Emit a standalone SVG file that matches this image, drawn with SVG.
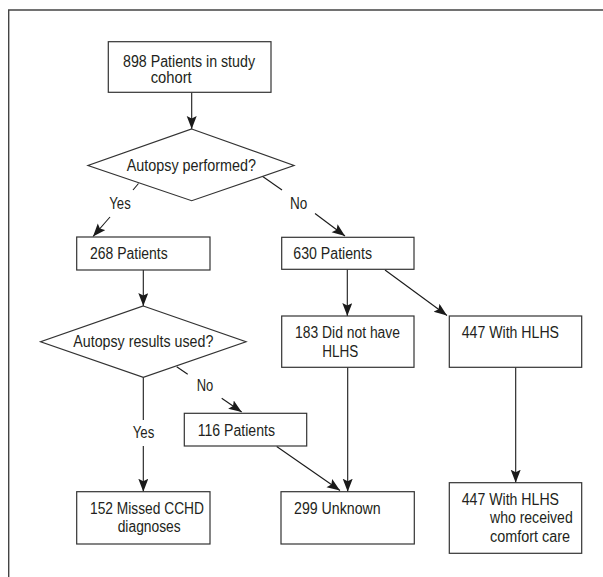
<svg xmlns="http://www.w3.org/2000/svg" width="603" height="577" viewBox="0 0 603 577">
<defs>
<marker id="ah" markerUnits="userSpaceOnUse" markerWidth="14" markerHeight="11" refX="13" refY="5" orient="auto">
<path d="M0,0 L13,5 L0,10 L2.5,5 z" fill="#1a1a1a"/>
</marker>
<style>
text{font-family:"Liberation Sans",Arial,sans-serif;font-size:16px;fill:#231f20}
.box{fill:#fff;stroke:#333;stroke-width:1.2}
.ln{stroke:#1a1a1a;stroke-width:1.1;fill:none}
.arr{stroke:#1a1a1a;stroke-width:1.1;fill:none;marker-end:url(#ah)}
.frame{stroke:#444;stroke-width:1.4;fill:none}
</style>
</defs>
<rect width="603" height="577" fill="#fff"/>
<path class="frame" d="M603,10 H8.7 V577"/>

<g id="connectors">
<line class="arr" x1="191.7" y1="92.5" x2="191.7" y2="129"/>
<line class="ln" x1="138.5" y1="183.5" x2="133" y2="190"/>
<line class="arr" x1="110" y1="217" x2="93" y2="236.5"/>
<line class="ln" x1="262" y1="176" x2="282" y2="190"/>
<line class="arr" x1="315" y1="213.5" x2="345" y2="236"/>
<line class="arr" x1="143.3" y1="270" x2="143.3" y2="306"/>
<line class="arr" x1="347.3" y1="269.5" x2="347.3" y2="316"/>
<line class="arr" x1="385" y1="270" x2="447" y2="315.5"/>
<line class="ln" x1="176.7" y1="366.7" x2="187.7" y2="374.3"/>
<line class="arr" x1="221.7" y1="398.3" x2="241.7" y2="412"/>
<line class="ln" x1="143.3" y1="377.3" x2="143.3" y2="420"/>
<line class="arr" x1="143.3" y1="446" x2="143.3" y2="491.7"/>
<line class="arr" x1="347.7" y1="367.3" x2="347.7" y2="491.7"/>
<line class="arr" x1="276.7" y1="446.5" x2="340" y2="490.5"/>
<line class="arr" x1="515.7" y1="367.3" x2="515.7" y2="482.7"/>
<text x="109.3" y="209" textLength="21.4" lengthAdjust="spacingAndGlyphs">Yes</text>
<text x="290" y="209" textLength="17.3" lengthAdjust="spacingAndGlyphs">No</text>
<text x="196.7" y="391" textLength="16.6" lengthAdjust="spacingAndGlyphs">No</text>
<text x="132.7" y="438" textLength="21.6" lengthAdjust="spacingAndGlyphs">Yes</text>
</g>

<g id="n898">
<rect class="box" x="108.3" y="41.7" width="162.7" height="50.6"/>
<text x="123" y="66.7" textLength="132" lengthAdjust="spacingAndGlyphs">898 Patients in study</text>
<text x="150.7" y="83.3" textLength="41" lengthAdjust="spacingAndGlyphs">cohort</text>
</g>

<g id="d_autopsy">
<polygon class="box" points="191.7,129 294,165.5 191.7,200.7 88,165.5"/>
<text x="126.7" y="171" textLength="129.3" lengthAdjust="spacingAndGlyphs">Autopsy performed?</text>
</g>

<g id="n268">
<rect class="box" x="76.7" y="237" width="133.3" height="33"/>
<text x="90" y="259" textLength="77.7" lengthAdjust="spacingAndGlyphs">268 Patients</text>
</g>

<g id="n630">
<rect class="box" x="281.7" y="237.3" width="132.3" height="32"/>
<text x="293.3" y="259" textLength="78.7" lengthAdjust="spacingAndGlyphs">630 Patients</text>
</g>

<g id="d_results">
<polygon class="box" points="143.3,306 246,341.7 143.3,377.3 40.6,341.7"/>
<text x="73.3" y="347" textLength="140" lengthAdjust="spacingAndGlyphs">Autopsy results used?</text>
</g>

<g id="n183">
<rect class="box" x="281.7" y="316" width="132.3" height="51.3"/>
<text x="295" y="338" textLength="105" lengthAdjust="spacingAndGlyphs">183 Did not have</text>
<text x="322.3" y="356.5" textLength="36" lengthAdjust="spacingAndGlyphs">HLHS</text>
</g>

<g id="n447">
<rect class="box" x="449.3" y="316" width="132.4" height="51.3"/>
<text x="461.7" y="338" textLength="97.3" lengthAdjust="spacingAndGlyphs">447 With HLHS</text>
</g>

<g id="n116">
<rect class="box" x="184.3" y="413.3" width="122.4" height="32.7"/>
<text x="197.7" y="436" textLength="77.3" lengthAdjust="spacingAndGlyphs">116 Patients</text>
</g>

<g id="n152">
<rect class="box" x="76.7" y="491.7" width="133.3" height="52.3"/>
<text x="90" y="514" textLength="114" lengthAdjust="spacingAndGlyphs">152 Missed CCHD</text>
<text x="117.7" y="532" textLength="63" lengthAdjust="spacingAndGlyphs">diagnoses</text>
</g>

<g id="n299">
<rect class="box" x="281" y="491.7" width="133.3" height="52.3"/>
<text x="294" y="514" textLength="86.7" lengthAdjust="spacingAndGlyphs">299 Unknown</text>
</g>

<g id="n447c">
<rect class="box" x="449.3" y="482.7" width="132.4" height="70.6"/>
<text x="461.7" y="505" textLength="97.3" lengthAdjust="spacingAndGlyphs">447 With HLHS</text>
<text x="490" y="523.3" textLength="82.7" lengthAdjust="spacingAndGlyphs">who received</text>
<text x="490" y="541.7" textLength="80" lengthAdjust="spacingAndGlyphs">comfort care</text>
</g>
</svg>
